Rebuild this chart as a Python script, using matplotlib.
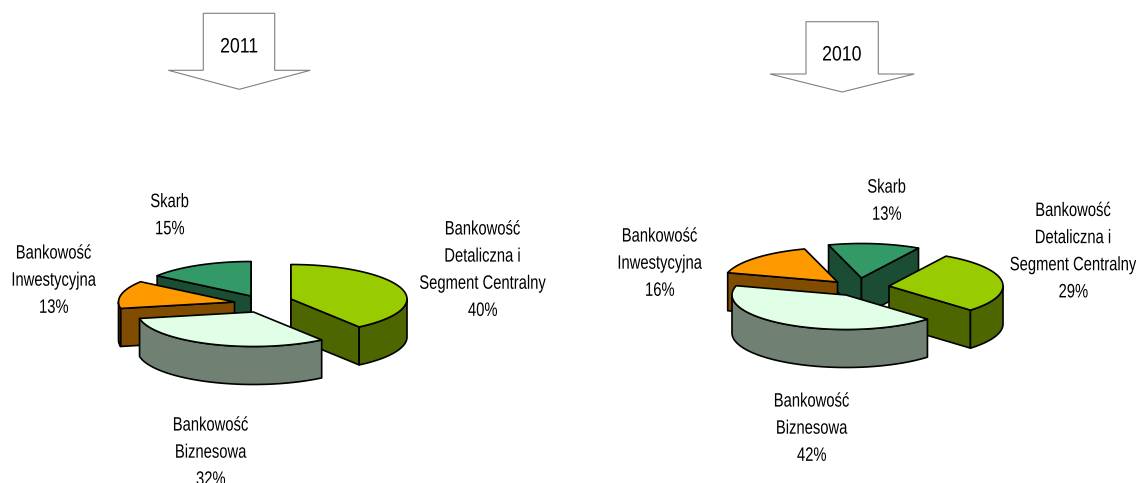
import numpy as np
import matplotlib
matplotlib.use("Agg")
import matplotlib.pyplot as plt
from matplotlib.patches import Polygon
from matplotlib.patheffects import AbstractPathEffect
from matplotlib.transforms import Affine2D

plt.rcParams['font.family'] = ['Liberation Sans', 'DejaVu Sans']

segments = ["Bankowość\nDetaliczna i\nSegment Centralny", "Bankowość\nBiznesowa",
            "Bankowość\nInwestycyjna", "Skarb"]
values_2011 = [40, 32, 13, 15]
values_2010 = [29, 42, 16, 13]
years = ["2011", "2010"]

top_colors = ["#99CC00", "#E0FFE6", "#FF9900", "#339966"]
side_colors = ["#4D6600", "#708073", "#804D00", "#1A4D33"]

# layout in pixels, y pointing down
W, H = 1136, 483
RY, DEPTH = 34.5, 38
apex_2011 = [(291, 299), (253.5, 312), (234.5, 302), (251, 296)]
apex_2010 = [(889, 286), (846, 295), (837.5, 282), (861.5, 278)]
label_pos_2011 = [(483, 270.7), (211, 453.2), (54, 281.2), (170, 216.2)]
label_pos_2010 = [(1073.5, 252.2), (812, 429.2), (660, 264.2), (887, 201.7)]
draw_order = [3, 2, 0, 1]


class Narrow(AbstractPathEffect):
    # squeezes each text line around its own middle, no narrow font is installed
    def __init__(self, sx):
        super().__init__()
        self.sx = sx

    def draw_path(self, renderer, gc, tpath, affine, rgbFace=None):
        if len(tpath.vertices) == 0:
            return
        mid = (tpath.vertices[:, 0].min() + tpath.vertices[:, 0].max()) / 2
        squeeze = Affine2D().translate(-mid, 0).scale(self.sx, 1).translate(mid, 0)
        renderer.draw_path(gc, tpath, squeeze + affine, rgbFace)


def arc(apex, a0, a1, rx, ry):
    # angles run clockwise from twelve o'clock
    t = np.radians(np.linspace(a0, a1, 80))
    return np.column_stack([apex[0] + rx * np.sin(t), apex[1] - ry * np.cos(t)])


def draw_slice(ax, apex, a0, a1, rx, top, side):
    down = np.array([0, DEPTH])
    edge = arc(apex, a0, a1, rx, RY)
    kw = dict(edgecolor="black", linewidth=1.2, joinstyle="round")
    # only the cut faces turned to the viewer get drawn
    faces = []
    if np.sin(np.radians(a0)) <= 1e-9:
        faces.append(edge[0])
    if np.sin(np.radians(a1)) >= -1e-9:
        faces.append(edge[-1])
    for p in faces:
        quad = [apex, p, p + down, np.array(apex) + down]
        ax.add_patch(Polygon(quad, closed=True, facecolor=side, **kw))
    lo, hi = max(a0, 90), min(a1, 270)
    if lo < hi:
        rim = arc(apex, lo, hi, rx, RY)
        ax.add_patch(Polygon(np.vstack([rim, rim[::-1] + down]), closed=True,
                             facecolor=side, **kw))
    ax.add_patch(Polygon(np.vstack([[apex], edge]), closed=True, facecolor=top, **kw))


def draw_pie(ax, values, names, apexes, label_pos, start, rx):
    stops = start + np.cumsum([0] + list(values)) * 360.0 / sum(values)
    for i in draw_order:
        draw_slice(ax, apexes[i], stops[i], stops[i + 1], rx, top_colors[i], side_colors[i])
    for name, v, (x, y) in zip(names, values, label_pos):
        ax.text(x, y, "%s\n%d%%" % (name, v), ha="center", va="center", ma="center",
                fontsize=14, linespacing=1.78, color="black", path_effects=[Narrow(0.76)])


def draw_arrow(ax, x0, x1, y0, y1, xl, xr, tip_y, tip_x, year, ty):
    pts = [(x0, y0), (x1, y0), (x1, y1), (xr, y1), (tip_x, tip_y), (xl, y1), (x0, y1)]
    ax.add_patch(Polygon(pts, closed=True, facecolor="white", edgecolor="#808080", linewidth=0.8))
    ax.text(tip_x, ty, year, ha="center", va="center", fontsize=15, color="black",
            path_effects=[Narrow(0.85)])


fig = plt.figure(figsize=(W / 100, H / 100), dpi=100)
ax = fig.add_axes([0, 0, 1, 1])
ax.set_xlim(0, W)
ax.set_ylim(H, 0)
ax.axis("off")

draw_arrow(ax, 203.3, 274.7, 13.3, 70.3, 168.3, 310.3, 89.3, 239.3, years[0], 47)
draw_arrow(ax, 806, 878.3, 21.7, 74, 770, 914.3, 92, 842, years[1], 55)

draw_pie(ax, values_2011, segments, apex_2011, label_pos_2011, 0, 116)
draw_pie(ax, values_2010, segments, apex_2010, label_pos_2010, 30, 114)

fig.savefig("out.png", dpi=100, facecolor="white")
